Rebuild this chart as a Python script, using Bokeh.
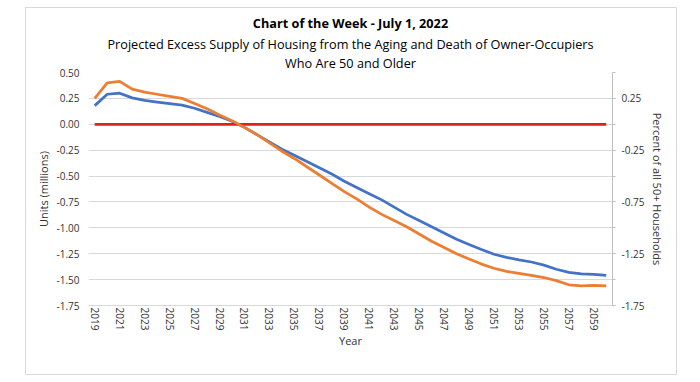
from bokeh.plotting import figure
from bokeh.models import (Range1d, LinearAxis, FixedTicker, Legend, LegendItem,
                          Title, NumeralTickFormatter)
from bokeh.embed import file_html
from bokeh.resources import INLINE

# ---------------- data ----------------
years = list(range(2019, 2061))
units = [0.18, 0.29, 0.30, 0.255, 0.23, 0.215, 0.20, 0.185, 0.155, 0.115, 0.075, 0.03,
         -0.03, -0.10, -0.17, -0.24, -0.30, -0.36, -0.42, -0.48, -0.55, -0.61,
         -0.67, -0.73, -0.80, -0.87, -0.93, -0.99, -1.05, -1.11, -1.16, -1.21,
         -1.255, -1.285, -1.31, -1.33, -1.36, -1.40, -1.43, -1.445, -1.45, -1.46]
percent = [0.25, 0.40, 0.415, 0.34, 0.31, 0.29, 0.27, 0.25, 0.20, 0.15, 0.09, 0.035,
           -0.03, -0.10, -0.18, -0.26, -0.33, -0.41, -0.49, -0.57, -0.65, -0.72,
           -0.80, -0.87, -0.93, -0.99, -1.06, -1.13, -1.19, -1.25, -1.30, -1.35,
           -1.39, -1.42, -1.44, -1.46, -1.48, -1.51, -1.55, -1.56, -1.555, -1.56]
reference = [0.0] * len(years)

x_label_years = years[::2]
left_ticks = [0.50, 0.25, 0.00, -0.25, -0.50, -0.75, -1.00, -1.25, -1.50, -1.75]
right_ticks = [0.25, -0.25, -0.75, -1.25, -1.75]

title_lines = ["Chart of the Week - July 1, 2022",
               "Projected Excess Supply of Housing from the Aging and Death of Owner-Occupiers",
               "Who Are 50 and Older"]

FONT = "Open Sans"
TXT = "#333333"
BORDER = "#d9d9d9"

p = figure(frame_width=524, frame_height=233, x_range=Range1d(2018.5, 2060.5),
           y_range=Range1d(-1.75, 0.5), output_backend="svg", toolbar_location=None,
           min_border_left=88, min_border_right=87, min_border_top=72, min_border_bottom=0)
p.outline_line_color = None
p.background_fill_color = "white"
p.border_fill_color = None
g = f"linear-gradient({BORDER},{BORDER})"
p.styles = {"background": (f"{g} 25px 7px / 652px 1px no-repeat, "
                           f"{g} 25px 374px / 652px 1px no-repeat, "
                           f"{g} 25px 7px / 1px 368px no-repeat, "
                           f"{g} 676px 7px / 1px 368px no-repeat, white")}

# grid
p.xgrid.visible = False
p.ygrid.ticker = FixedTicker(ticks=left_ticks)
p.ygrid.grid_line_color = "#d9d9d9"
p.ygrid.grid_line_width = 1

# left axis
ya = p.yaxis[0]
ya.ticker = FixedTicker(ticks=left_ticks)
ya.formatter = NumeralTickFormatter(format="0.00")
ya.axis_line_color = None
ya.major_tick_line_color = None
ya.minor_tick_line_color = None
ya.major_tick_out = 0
ya.minor_tick_out = 0
ya.major_label_standoff = 9
ya.major_label_text_font = FONT
ya.major_label_text_font_size = "10px"
ya.major_label_text_color = TXT
ya.axis_label = "Units (millions)"
ya.axis_label_standoff = 3
ya.axis_label_text_font = FONT
ya.axis_label_text_font_size = "11px"
ya.axis_label_text_font_style = "normal"
ya.axis_label_text_color = TXT

# right axis
p.extra_y_ranges = {"pct": Range1d(-1.75, 0.5)}
ra = LinearAxis(y_range_name="pct",
                ticker=FixedTicker(ticks=right_ticks, minor_ticks=left_ticks),
                formatter=NumeralTickFormatter(format="0.00"))
ra.axis_line_color = "#bfbfbf"
ra.major_tick_line_color = "#bfbfbf"
ra.minor_tick_line_color = "#bfbfbf"
ra.major_tick_out = 3
ra.major_tick_in = 0
ra.minor_tick_out = 3
ra.minor_tick_in = 0
ra.major_label_standoff = 6
ra.major_label_text_font = FONT
ra.major_label_text_font_size = "10px"
ra.major_label_text_color = TXT
ra.axis_label = "Percent of all 50+ Households"
ra.axis_label_standoff = 3
ra.axis_label_text_font = FONT
ra.axis_label_text_font_size = "11px"
ra.axis_label_text_font_style = "normal"
ra.axis_label_text_color = TXT
p.add_layout(ra, "right")

# x axis
xa = p.xaxis[0]
xa.ticker = FixedTicker(ticks=x_label_years)
xa.major_label_orientation = "vertical"
xa.axis_line_color = "#d9d9d9"
xa.major_tick_line_color = None
xa.minor_tick_line_color = None
xa.major_tick_out = 0
xa.minor_tick_out = 0
xa.major_label_standoff = 2
xa.major_label_text_font = FONT
xa.major_label_text_font_size = "10px"
xa.major_label_text_color = TXT
xa.axis_label = "Year"
xa.axis_label_standoff = 0
xa.axis_label_text_font = FONT
xa.axis_label_text_font_size = "11px"
xa.axis_label_text_font_style = "normal"
xa.axis_label_text_color = TXT

# lines
r_units = p.line(years, units, line_color="#4472C4", line_width=2.75)
r_ref = p.line(years, reference, line_color="#E0201B", line_width=2.75)
r_pct = p.line(years, percent, line_color="#ED7D31", line_width=2.75)

legend = Legend(items=[LegendItem(label="Units", renderers=[r_units]),
                       LegendItem(label="No Excess Supply (Reference)", renderers=[r_ref]),
                       LegendItem(label="Percent of Households", renderers=[r_pct])],
                orientation="horizontal", location="top_center",
                label_text_font=FONT, label_text_font_size="11px", label_text_color=TXT,
                glyph_width=21, glyph_height=12, label_height=14, label_standoff=2,
                spacing=20, padding=0, margin=0, border_line_color=None,
                background_fill_alpha=0)
p.add_layout(legend, "below")

# titles: added nearest-first (line 3, line 2, then the bold main title)
standoffs = [8, -5, 2]
for i in (2, 1, 0):
    p.add_layout(Title(text=title_lines[i], align="center", standoff=standoffs[i],
                       text_font=FONT, text_font_size="12.7px",
                       text_font_style="bold" if i == 0 else "normal",
                       text_color="#000000"), "above")

open("out.html", "w").write(file_html(p, INLINE))
